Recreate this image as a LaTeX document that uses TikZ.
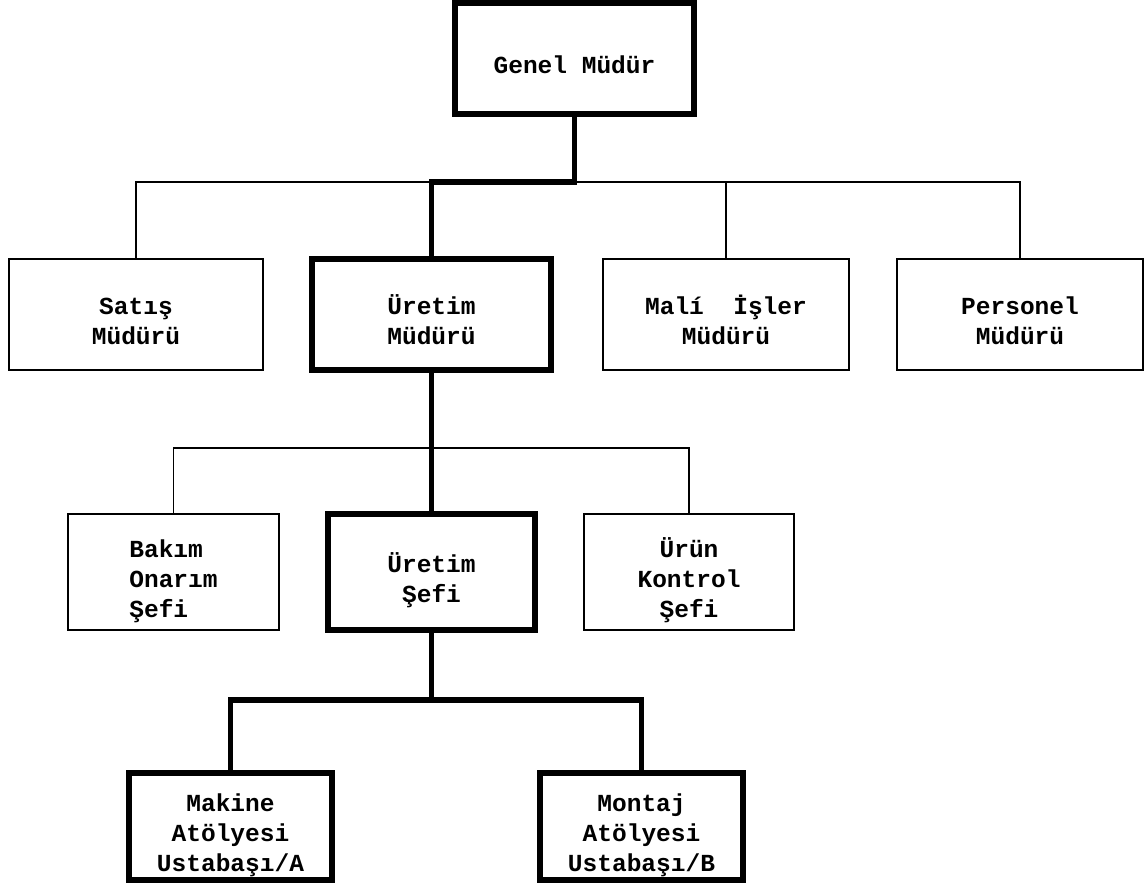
\documentclass[tikz,border=0pt]{standalone}
\usepackage{fontspec}
\setmonofont{Liberation Mono}
\tikzset{every path/.style={line width=0.9pt}}
\tikzset{
  unit/.style={draw, line width=0.9pt, inner sep=0pt, align=center,
    text depth=3pt, text height=18pt,
    font=\ttfamily\bfseries\fontsize{12.25}{15}\selectfont},
  chief/.style={unit, line width=2.6pt},
  tworows/.style={text height=33pt},
  threerows/.style={text height=48pt},
  thickline/.style={line width=2.8pt, line cap=rect}
}

\begin{document}
\begin{tikzpicture}[x=0.5pt,y=-0.5pt]
\useasboundingbox (0,0) rectangle (1145,885);
% top
\node[chief, minimum width=119.5pt, minimum height=55.5pt] (genel) at (574.5,58.5) {Genel Müdür};
% second row
\node[unit, tworows, minimum width=127pt, minimum height=55.5pt] (satis) at (136,314.5) {Satış\\Müdürü};
\node[chief, tworows, minimum width=119.5pt, minimum height=55.5pt] (uretimm) at (431.5,314.5) {Üretim\\Müdürü};
\node[unit, tworows, minimum width=123pt, minimum height=55.5pt] (mali) at (726,314.5) {Malí~~İşler\\Müdürü};
\node[unit, tworows, minimum width=123pt, minimum height=55.5pt] (personel) at (1020,314.5) {Personel\\Müdürü};
% third row
\node[unit, threerows, align=left, minimum width=105.5pt, minimum height=58pt] (bakim) at (173.5,572) {Bakım\\Onarım\\Şefi};
\node[chief, tworows, minimum width=103.5pt, minimum height=58pt] (uretims) at (431.5,572) {Üretim\\Şefi};
\node[unit, threerows, minimum width=105pt, minimum height=58pt] (urun) at (689,572) {Ürün\\Kontrol\\Şefi};
% workshops
\node[chief, threerows, minimum width=101.5pt, minimum height=53.5pt] (makine) at (230.5,826.5) {Makine\\Atölyesi\\Ustabaşı/A};
\node[chief, threerows, minimum width=101.5pt, minimum height=53.5pt] (montaj) at (641.5,826.5) {Montaj\\Atölyesi\\Ustabaşı/B};
\coordinate (bus1) at (575,182);
\coordinate (bus2) at (431.5,448);
\coordinate (bus3) at (431.5,700);
% thin links
\draw (satis.north) |- (bus1) -| (personel.north);
\draw (mali.north) -- (mali.north |- bus1);
\draw (bakim.north) |- (bus2) -| (urun.north);
% line of command
\draw[thickline] (genel.south) -- (genel.south |- bus1) -| (uretimm.north);
\draw[thickline] (uretimm.south) -- (uretims.north);
\draw[thickline] (uretims.south) -- (bus3);
\draw[thickline] (makine.north) |- (bus3) -| (montaj.north);
\end{tikzpicture}
\end{document}
